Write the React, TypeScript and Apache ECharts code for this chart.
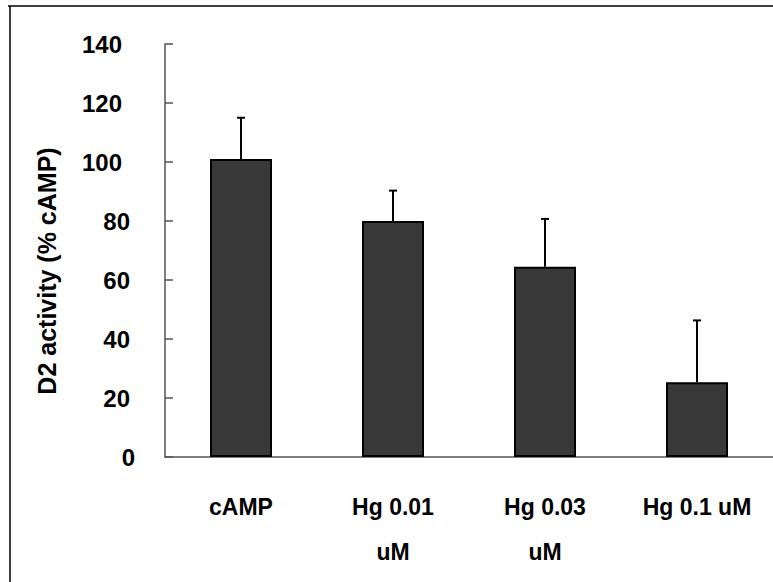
import React, { useEffect, useRef } from "react";
import * as echarts from "echarts";

const categories = ["cAMP", "Hg 0.01\nuM", "Hg 0.03\nuM", "Hg 0.1 uM"];
const means = [101, 80, 64.5, 25.3];
const upperErrors = [115, 90.3, 80.7, 46.3];
const yTicks = { min: 0, max: 140, interval: 20 };
const yAxisTitle = "D2 activity (% cAMP)";

const FONT = "'Liberation Sans', Arial, sans-serif";

export default function App() {
  const ref = useRef<HTMLDivElement>(null);
  useEffect(() => {
    if (!ref.current) return;
    const chart = echarts.init(ref.current, null, { renderer: "svg" });
    const errData = means.map((m, i) => [i, m, upperErrors[i]]);
    chart.setOption({
      animation: false,
      backgroundColor: "#fff",
      grid: { left: 165, top: 44, width: 612, height: 413 },
      xAxis: {
        type: "category",
        data: categories,
        boundaryGap: true,
        axisLine: { lineStyle: { color: "#555", width: 1.5 } },
        axisTick: { inside: true, length: 10, interval: 0, lineStyle: { color: "#333", width: 1.5 } },
        axisLabel: {
          interval: 0,
          margin: 27,
          color: "#000",
          fontFamily: FONT,
          fontWeight: "bold",
          fontSize: 23,
          lineHeight: 45,
        },
      },
      yAxis: {
        type: "value",
        min: yTicks.min,
        max: yTicks.max,
        interval: yTicks.interval,
        splitLine: { show: false },
        axisLine: { show: true, lineStyle: { color: "#555", width: 1.5 } },
        axisTick: { show: true, inside: true, length: 8, lineStyle: { color: "#555", width: 1.5 } },
        axisLabel: {
          margin: 30,
          formatter: (v: number) => {
            const s = String(v);
            return s.length === 3 ? `{a|${s}}` : s.length === 2 ? `{b|${s}}` : `{c|${s}}`;
          },
          rich: {
            a: { color: "#000", fontFamily: FONT, fontWeight: "bold", fontSize: 24, padding: [0, 13, 0, 0] },
            b: { color: "#000", fontFamily: FONT, fontWeight: "bold", fontSize: 24, padding: [0, 5, 0, 0] },
            c: { color: "#000", fontFamily: FONT, fontWeight: "bold", fontSize: 24 },
          },
        },
      },
      graphic: [
        { type: "line", shape: { x1: 8, y1: 6, x2: 773, y2: 6 }, style: { stroke: "#000", lineWidth: 1.5 } },
        { type: "line", shape: { x1: 10, y1: 6, x2: 10, y2: 582 }, style: { stroke: "#000", lineWidth: 1.5 } },
        {
          type: "text",
          x: 47,
          y: 271,
          rotation: Math.PI / 2,
          style: {
            text: yAxisTitle,
            fill: "#000",
            font: `bold 25px ${FONT}`,
            align: "center",
            verticalAlign: "middle",
          },
        },
      ],
      series: [
        {
          type: "bar",
          data: means,
          barWidth: 62,
          itemStyle: { color: "#383838", borderColor: "#000", borderWidth: 2 },
          z: 2,
        },
        {
          type: "custom",
          data: errData,
          z: 3,
          renderItem: (params: any, api: any) => {
            const x = api.value(0);
            const base = api.coord([x, api.value(1)]);
            const top = api.coord([x, api.value(2)]);
            return {
              type: "group",
              children: [
                {
                  type: "line",
                  shape: { x1: base[0], y1: base[1], x2: top[0], y2: top[1] },
                  style: { stroke: "#000", lineWidth: 2 },
                },
                {
                  type: "line",
                  shape: { x1: top[0] - 4, y1: top[1], x2: top[0] + 4, y2: top[1] },
                  style: { stroke: "#000", lineWidth: 2 },
                },
              ],
            };
          },
        },
      ],
    });
    return () => chart.dispose();
  }, []);
  return (
    <div
      ref={ref}
      style={{ position: "fixed", left: 0, top: 0, width: 773, height: 582, background: "#fff" }}
    />
  );
}
